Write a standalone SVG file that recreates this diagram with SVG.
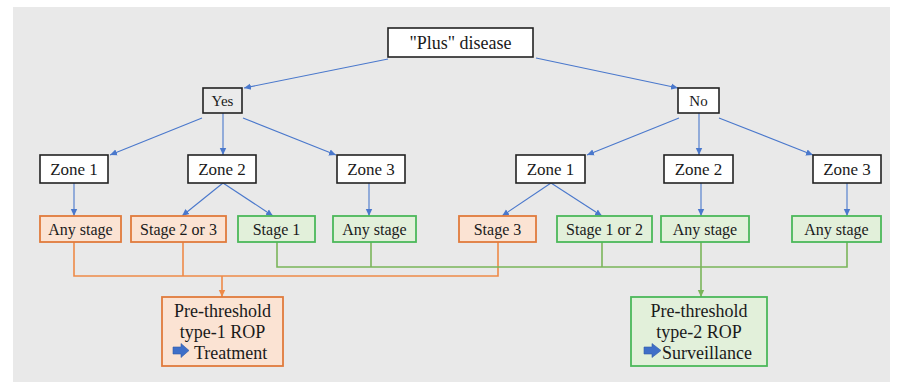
<svg xmlns="http://www.w3.org/2000/svg" width="899" height="382" viewBox="0 0 899 382">
<style>
text{font-family:"Liberation Serif","Times New Roman",serif;fill:#1a1a1a;text-anchor:middle}
.w{fill:#ffffff;stroke:#222;stroke-width:1.6}
.g0{fill:#ebebeb;stroke:#222;stroke-width:1.6}
.o{fill:#fbe3d3;stroke:#e07b3c;stroke-width:1.8}
.gr{fill:#e2f0da;stroke:#4cb85a;stroke-width:1.8}
.z{font-size:17px}
.s{font-size:16px}
.b{font-size:18px}
.bl{stroke:#4a78cc;stroke-width:1.1;fill:none;marker-end:url(#ab)}
.ol{stroke:#ee8a48;stroke-width:1.6;fill:none}
.gl{stroke:#7ab55a;stroke-width:1.6;fill:none}
.ic{fill:#3f6fc8;stroke:#2f5aa8;stroke-width:0.6}
</style>
<defs>
<marker id="ab" markerWidth="8" markerHeight="8" refX="7" refY="4" orient="auto" markerUnits="userSpaceOnUse"><path d="M0,0.8 L7,4 L0,7.2 Z" fill="#4a78cc"/></marker>
<marker id="ao" markerWidth="8" markerHeight="8" refX="7" refY="4" orient="auto" markerUnits="userSpaceOnUse"><path d="M0,0.8 L7,4 L0,7.2 Z" fill="#ee8a48"/></marker>
<marker id="ag" markerWidth="8" markerHeight="8" refX="7" refY="4" orient="auto" markerUnits="userSpaceOnUse"><path d="M0,0.8 L7,4 L0,7.2 Z" fill="#7ab55a"/></marker>
</defs>
<rect x="0" y="0" width="899" height="382" fill="#ffffff"/>
<rect x="13" y="7" width="877" height="375" fill="#e9e9e9"/>

<g id="connectors">
<line class="bl" x1="388" y1="59" x2="244" y2="88"/>
<line class="bl" x1="536" y1="58" x2="678" y2="88"/>
<line class="bl" x1="202" y1="118" x2="110" y2="155"/>
<line class="bl" x1="223" y1="113" x2="223" y2="155"/>
<line class="bl" x1="243" y1="118" x2="336" y2="155"/>
<line class="bl" x1="679" y1="118" x2="587" y2="155"/>
<line class="bl" x1="699" y1="113" x2="699" y2="155"/>
<line class="bl" x1="719" y1="118" x2="813" y2="155"/>
<line class="bl" x1="74" y1="183" x2="74" y2="216"/>
<line class="bl" x1="223" y1="183" x2="182" y2="216"/>
<line class="bl" x1="223" y1="183" x2="273" y2="216"/>
<line class="bl" x1="369" y1="183" x2="369" y2="216"/>
<line class="bl" x1="551" y1="183" x2="502" y2="216"/>
<line class="bl" x1="551" y1="183" x2="602" y2="216"/>
<line class="bl" x1="701" y1="183" x2="701" y2="216"/>
<line class="bl" x1="847" y1="183" x2="847" y2="216"/>
<polyline class="ol" points="74,242 74,276 498,276 498,242"/>
<line class="ol" x1="183" y1="242" x2="183" y2="276"/>
<line class="ol" x1="222" y1="276" x2="222" y2="297" marker-end="url(#ao)"/>
<polyline class="gl" points="277,242 277,267 847,267 847,242"/>
<line class="gl" x1="371" y1="242" x2="371" y2="267"/>
<line class="gl" x1="602" y1="242" x2="602" y2="267"/>
<line class="gl" x1="701" y1="242" x2="701" y2="297" marker-end="url(#ag)"/>
</g>

<g id="plus"><rect class="w" x="388" y="28" width="145" height="29"/><text class="b" x="460.5" y="48.5">"Plus" disease</text></g>
<g id="yes"><rect class="g0" x="203" y="88" width="39" height="25"/><text x="222.5" y="106" font-size="15">Yes</text></g>
<g id="no"><rect class="w" x="678" y="88" width="41" height="25"/><text x="698.5" y="106" font-size="15">No</text></g>

<g id="yz1"><rect class="w" x="40" y="155" width="68" height="28"/><text class="z" x="74" y="175">Zone 1</text></g>
<g id="yz2"><rect class="w" x="188" y="155" width="68" height="28"/><text class="z" x="222" y="175">Zone 2</text></g>
<g id="yz3"><rect class="w" x="337" y="155" width="68" height="28"/><text class="z" x="371" y="175">Zone 3</text></g>
<g id="nz1"><rect class="w" x="516" y="155" width="69" height="28"/><text class="z" x="550.5" y="175">Zone 1</text></g>
<g id="nz2"><rect class="w" x="664" y="155" width="69" height="28"/><text class="z" x="698.5" y="175">Zone 2</text></g>
<g id="nz3"><rect class="w" x="813" y="155" width="68" height="28"/><text class="z" x="847" y="175">Zone 3</text></g>

<g id="s1"><rect class="o" x="40" y="216" width="81" height="26"/><text class="s" x="80.5" y="234.5">Any stage</text></g>
<g id="s2"><rect class="o" x="131" y="216" width="95" height="26"/><text class="s" x="178.5" y="234.5">Stage 2 or 3</text></g>
<g id="s3"><rect class="gr" x="238" y="216" width="77" height="26"/><text class="s" x="276.5" y="234.5">Stage 1</text></g>
<g id="s4"><rect class="gr" x="333" y="216" width="83" height="26"/><text class="s" x="374.5" y="234.5">Any stage</text></g>
<g id="s5"><rect class="o" x="459" y="216" width="77" height="26"/><text class="s" x="497.5" y="234.5">Stage 3</text></g>
<g id="s6"><rect class="gr" x="557" y="216" width="95" height="26"/><text class="s" x="604.5" y="234.5">Stage 1 or 2</text></g>
<g id="s7"><rect class="gr" x="661" y="216" width="88" height="26"/><text class="s" x="705" y="234.5">Any stage</text></g>
<g id="s8"><rect class="gr" x="792" y="216" width="89" height="26"/><text class="s" x="836.5" y="234.5">Any stage</text></g>

<g id="type1"><rect class="o" x="162" y="297" width="121" height="69"/>
<text class="b" x="222.5" y="317">Pre-threshold</text>
<text class="b" x="222.5" y="338">type-1 ROP</text>
<path class="ic" d="M173,347 L181,347 L181,343.5 L189,350.5 L181,357.5 L181,354 L173,354 Z"/>
<text class="b" x="194" y="358.5" style="text-anchor:start">Treatment</text>
</g>
<g id="type2"><rect class="gr" x="631" y="297" width="136" height="69"/>
<text class="b" x="699" y="317">Pre-threshold</text>
<text class="b" x="699" y="338">type-2 ROP</text>
<path class="ic" d="M644,347 L652,347 L652,343.5 L661,350.5 L652,357.5 L652,354 L644,354 Z"/>
<text class="b" x="662" y="358.5" style="text-anchor:start">Surveillance</text>
</g>
</svg>
